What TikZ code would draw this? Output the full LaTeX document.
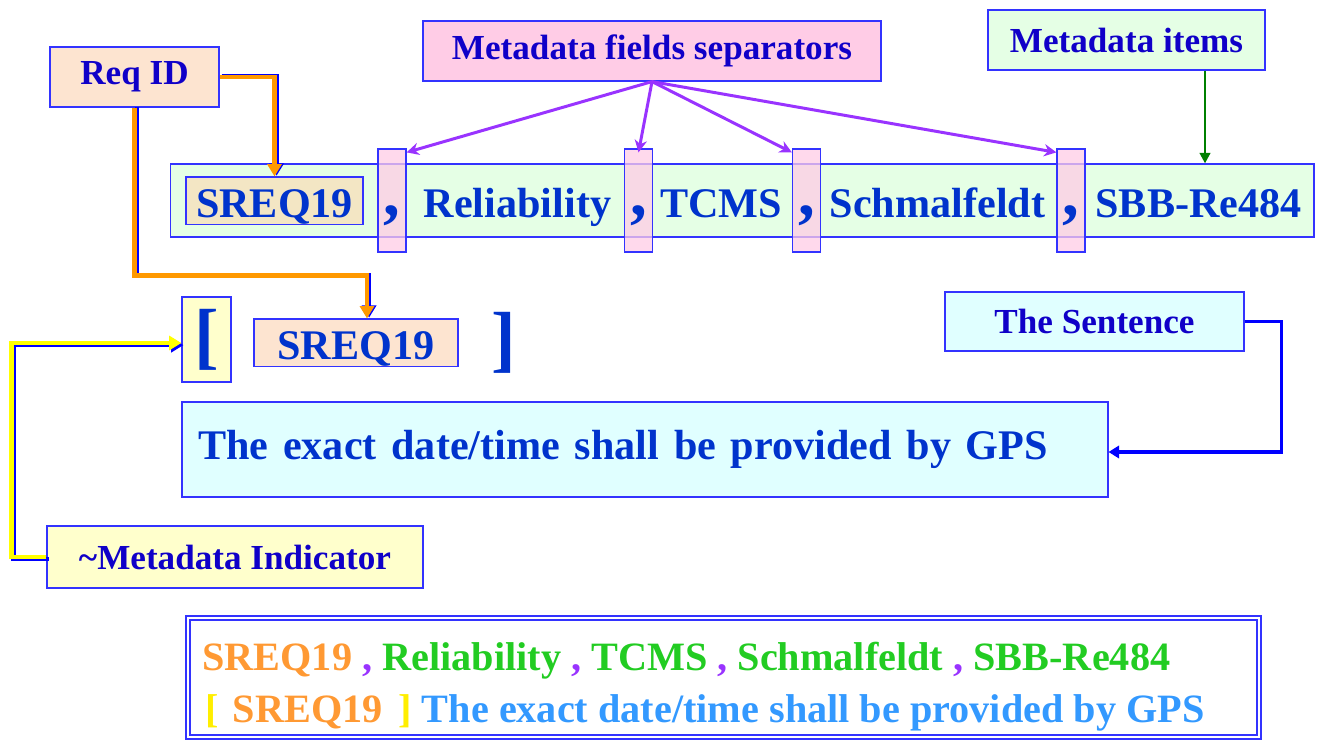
\documentclass[tikz,border=0pt]{standalone}
\usepackage{fontspec}
\setmainfont{Liberation Serif}
\usetikzlibrary{arrows.meta}

\definecolor{boxline}{RGB}{51,51,255}
\definecolor{labelink}{RGB}{16,0,200}
\definecolor{rowink}{RGB}{0,51,204}
\definecolor{reqpeach}{RGB}{253,228,208}
\definecolor{idtan}{RGB}{243,230,196}
\definecolor{mint}{RGB}{229,255,229}
\definecolor{rose}{RGB}{255,204,230}
\definecolor{icecyan}{RGB}{224,255,255}
\definecolor{cream}{RGB}{255,255,204}
\definecolor{sepviolet}{RGB}{153,51,255}
\definecolor{itemgreen}{RGB}{0,128,0}
\definecolor{pipeorange}{RGB}{255,153,0}
\definecolor{pipeyellow}{RGB}{255,255,0}
\definecolor{idorange}{RGB}{255,153,51}
\definecolor{fieldgreen}{RGB}{34,204,34}
\definecolor{sentblue}{RGB}{51,153,255}
\definecolor{brackyellow}{RGB}{255,238,0}

\begin{document}
\begin{tikzpicture}[x=0.02cm,y=-0.02cm,
  box/.style={draw=boxline,line width=.7pt,inner sep=0pt},
  lab/.style={box,text=labelink,font=\fontsize{20}{24}\selectfont\bfseries},
  word/.style={anchor=base,inner sep=0pt,text=rowink,font=\fontsize{24}{28}\selectfont\bfseries},
  idbox/.style={box,word,text height=.82cm,text depth=.13cm},
  sepbox/.style={box,word,fill=rose,fill opacity=.75,text opacity=1,font=\fontsize{38}{40}\selectfont\bfseries,
    minimum width=.56cm,text height=1.34cm,text depth=.72cm},
  big/.style={inner sep=0pt,text=rowink,font=\fontsize{42}{44}\selectfont\bfseries},
  pipe/.style={line width=2.4pt,-{Triangle[width=8pt,length=7pt]}},
  shade/.style={pipe,draw=blue,transform canvas={xshift=1.2pt,yshift=#1}},
  separrow/.style={draw=sepviolet,line width=1.7pt,-{Stealth[width=7pt,length=7pt]}},
  sum/.style={anchor=base west,inner sep=0pt,font=\fontsize{22.9}{27}\selectfont\bfseries}]
  \useasboundingbox (0,0) rectangle (1319,746);

  % callout labels
  \node[lab,fill=reqpeach,minimum width=3.38cm,minimum height=1.2cm] (reqid) at (134.5,77) {Req ID};
  \node[lab,fill=rose,minimum width=9.16cm,minimum height=1.2cm] (seps) at (652,51) {Metadata fields separators};
  \node[lab,fill=mint,minimum width=5.54cm,minimum height=1.2cm] (items) at (1126.5,40) {Metadata items};
  \node[lab,fill=icecyan,minimum width=5.98cm,minimum height=1.18cm] (sentlab) at (1094.5,321.5) {The Sentence};
  \node[lab,fill=cream,minimum width=7.52cm,minimum height=1.24cm] (indic) at (235,557) {\textasciitilde Metadata Indicator};

  % metadata line
  \node[box,fill=mint,minimum width=22.88cm,minimum height=1.46cm] (row) at (742,200.5) {};
  \node[idbox,fill=idtan,minimum width=3.54cm] (id1) at (274.5,218) {SREQ19};
  \foreach \name/\x/\txt in {rel/517.5/Reliability,tcms/721/TCMS,schm/937.5/Schmalfeldt,sbb/1198.5/SBB-Re484}
    \node[word] (\name) at (\x,218) {\txt};
  \foreach \i/\x in {1/392,2/638.5,3/806.5,4/1071}
    \node[sepbox] (sep\i) at (\x,216) {,};

  % indicator line and sentence
  \node[box,big,fill=cream,minimum width=.98cm,minimum height=1.7cm] (obr) at (206.5,339.5) {[};
  \node[idbox,fill=reqpeach,minimum width=4.08cm] (id2) at (356,360) {SREQ19};
  \node[big] (cbr) at (504,343) {]};
  \node[box,fill=icecyan,minimum width=18.52cm,minimum height=1.9cm,text width=17.88cm,
    inner xsep=.32cm,align=left,text=rowink,
    font=\fontsize{24}{28}\selectfont\bfseries] (sent) at (645,449.5)
    {\spaceskip=8.4pt The exact date/time shall be provided by GPS};

  % connectors (blue pass first, coloured pass on top)
  \draw[shade=.4pt] (reqid.east) -| (id1.north);
  \draw[pipe,draw=pipeorange] (reqid.east) -| (id1.north);
  \draw[shade=.4pt] (reqid.south) -- ++(0,168) -| ([xshift=.22cm]id2.north);
  \draw[pipe,draw=pipeorange] (reqid.south) -- ++(0,168) -| ([xshift=.22cm]id2.north);
  \draw[shade=-1.2pt] (indic.west) -- ++(-35,0) |- ([yshift=-.07cm]obr.west);
  \draw[pipe,draw=pipeyellow] (indic.west) -- ++(-35,0) |- ([yshift=-.07cm]obr.west);
  \draw[draw=blue,line width=1.8pt,-{Triangle[width=7pt,length=6pt]}] (sentlab.east) -- ++(37,0) |- ([yshift=-.05cm]sent.east);
  \foreach \i/\a in {1/north east,2/north,3/north west,4/north west}
    \draw[separrow] (seps.south) -- ([yshift=-.08cm]sep\i.\a);
  \draw[draw=itemgreen,line width=1.4pt,-{Triangle[width=6pt,length=6pt]}] ([xshift=.13cm]items.south -| sbb) -- ([xshift=.13cm]sbb |- row.north);

  % resulting text
  \node[draw=boxline,line width=.9pt,double=white,double distance=1.5pt,inner sep=0pt,
    minimum width=21.42cm,minimum height=2.38cm] (summary) at (723.5,677.5) {};
  \node[sum] (sumline1) at (202,670) {\textcolor{idorange}{SREQ19} \textcolor{sepviolet}{,}
    \textcolor{fieldgreen}{Reliability} \textcolor{sepviolet}{,} \textcolor{fieldgreen}{TCMS}
    \textcolor{sepviolet}{,} \textcolor{fieldgreen}{Schmalfeldt} \textcolor{sepviolet}{,}
    \textcolor{fieldgreen}{SBB-Re484}};
  \node[sum] (sumline2) at (205,722) {\textcolor{brackyellow}{[}\hspace{8pt}\textcolor{idorange}{SREQ19}\hspace{9pt}\textcolor{brackyellow}{]}
    \textcolor{sentblue}{The exact date/time shall be provided by GPS}};
\end{tikzpicture}
\end{document}
